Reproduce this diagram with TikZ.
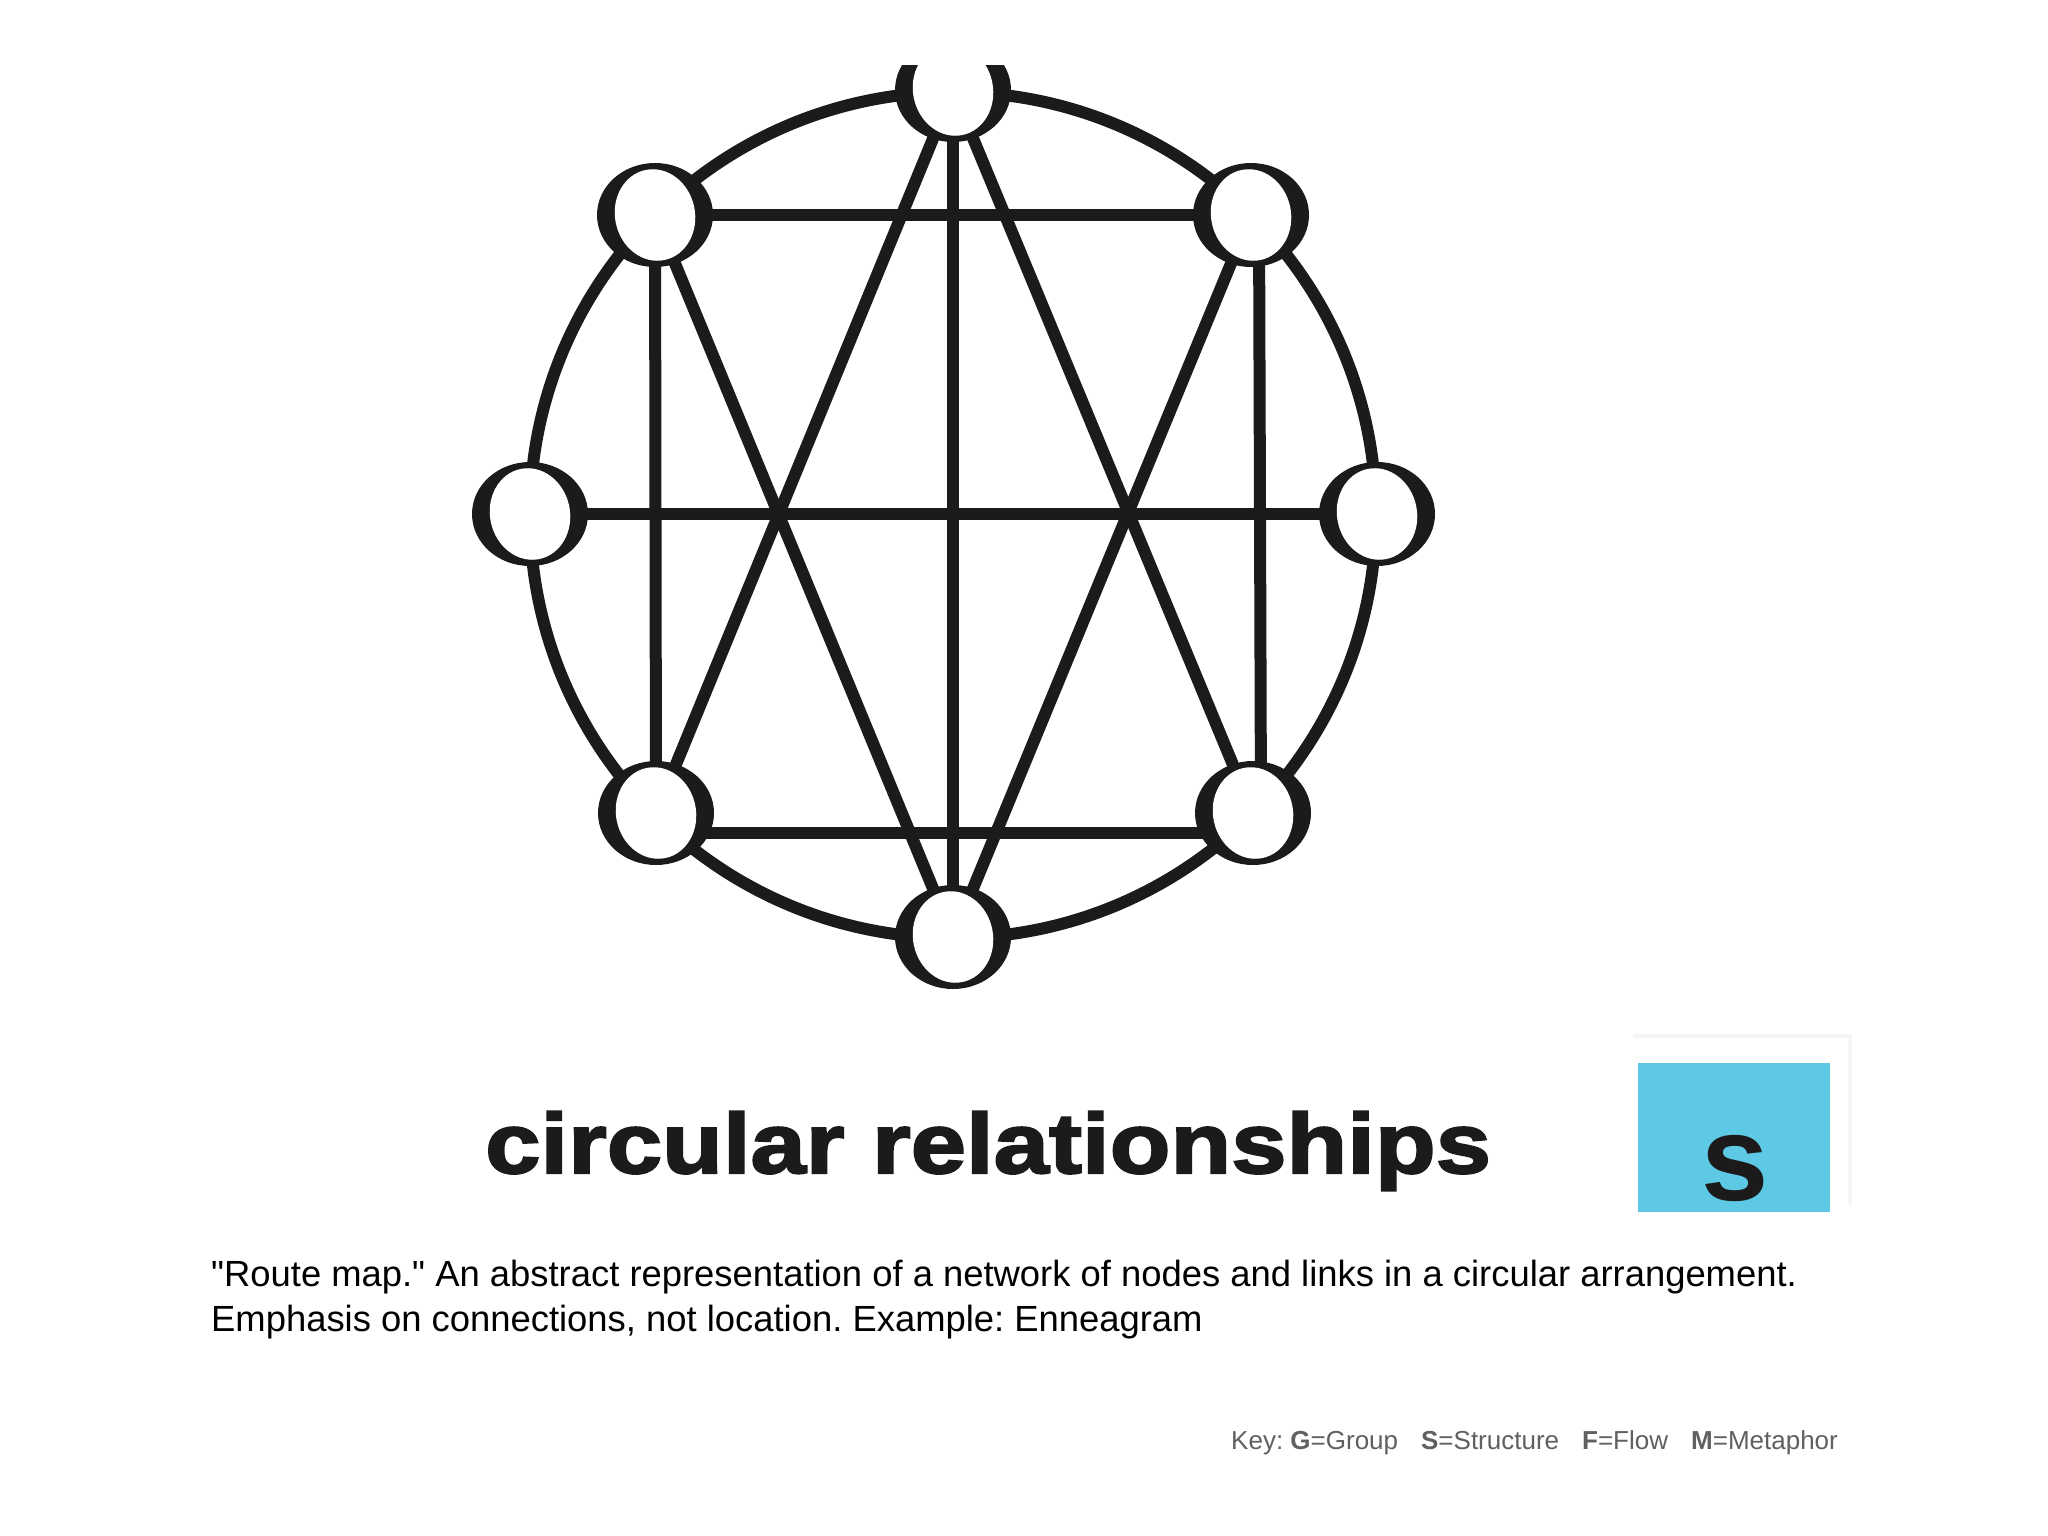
\documentclass[tikz,border=0pt]{standalone}
\usepackage{fontspec}
\setmainfont{Liberation Sans}[Ligatures=TeXOff]
\newfontfamily\titlefont{Liberation Sans}[BoldFeatures={FakeBold=2.5,FakeStretch=1.17}]
\definecolor{ink}{RGB}{28,26,26}
\definecolor{sblue}{RGB}{93,201,229}
\definecolor{keygray}{RGB}{96,96,96}
\frenchspacing
\begin{document}
\begin{tikzpicture}[x=1pt,y=-1pt,
  link/.style={line width=12pt, draw=ink},
  vert/.style={circle, minimum size=104pt, inner sep=0pt}]
\fill[white] (0,0) rectangle (2048,1536);
\useasboundingbox (0,0) rectangle (2048,1536);
\begin{scope}
\clip (0,66) rectangle (2048,1536);
\coordinate (C) at (953,515);
\node[vert] (nT)  at (953,90)  {};
\node[vert] (nTL) at (655,215) {};
\node[vert] (nTR) at (1251,215) {};
\node[vert] (nL)  at (530,514) {};
\node[vert] (nR)  at (1377,514) {};
\node[vert] (nBL) at (656,813) {};
\node[vert] (nBR) at (1253,813) {};
\node[vert] (nB)  at (953,937) {};
\draw[link] (C) circle [radius=423];
\draw[link] (nTL.center) -- (nTR.center);
\draw[link] (nL.center) -- (nR.center);
\draw[link] ([yshift=-20pt]nBL.center) -- ([yshift=-20pt]nBR.center);
\draw[link] (nTL.center) -- (nBL.center);
\draw[link] ([xshift=8pt]nTR.center) -- ([xshift=8pt]nBR.center);
\draw[link] (nT.center) -- (nB.center);
\draw[link] (nT.center) -- (nBL.center);
\draw[link] (nT.center) -- (nBR.center);
\draw[link] (nTL.center) -- (nB.center);
\draw[link] (nTR.center) -- (nB.center);
\foreach \n in {nT,nTL,nTR,nL,nR,nBL,nBR,nB}{
  \fill[ink] (\n.center) ellipse [x radius=58, y radius=52];
  \begin{scope}[shift={(\n.center)}]
    \fill[white, rotate=12] (0,0) ellipse [x radius=40, y radius=46];
  \end{scope}
}
\end{scope}
% title
\node[anchor=base west, inner sep=0pt, text=ink, font=\titlefont\bfseries\fontsize{85}{90}\selectfont] (title) at (485,1173) {circular relationships};
% faint frame and S box
\draw[black!4, line width=4pt] (1633,1036) -- (1850,1036) -- (1850,1205);
\node[fill=sblue, minimum width=192pt, minimum height=149pt, inner sep=0pt, anchor=north west] (box) at (1638,1063) {};
\node[anchor=base, inner sep=0pt, text=ink, font=\bfseries\fontsize{121}{121}\selectfont] (sletter) at (1735,1200) {s};
% description
\node[anchor=base west, inner sep=0pt, font=\fontsize{36.4}{45}\selectfont] (line1) at (211,1286) {"Route map." An abstract representation of a network of nodes and links in a circular arrangement.};
\node[anchor=base west, inner sep=0pt, font=\fontsize{36.4}{45}\selectfont] (line2) at (211,1331) {Emphasis on connections, not location. Example: Enneagram};
% key
\node[anchor=base west, inner sep=0pt, text=keygray, font=\fontsize{26}{30}\selectfont] (key) at (1231,1449) {Key: \textbf{G}=Group\hspace{23pt}\textbf{S}=Structure\hspace{23pt}\textbf{F}=Flow\hspace{23pt}\textbf{M}=Metaphor};
\end{tikzpicture}
\end{document}
